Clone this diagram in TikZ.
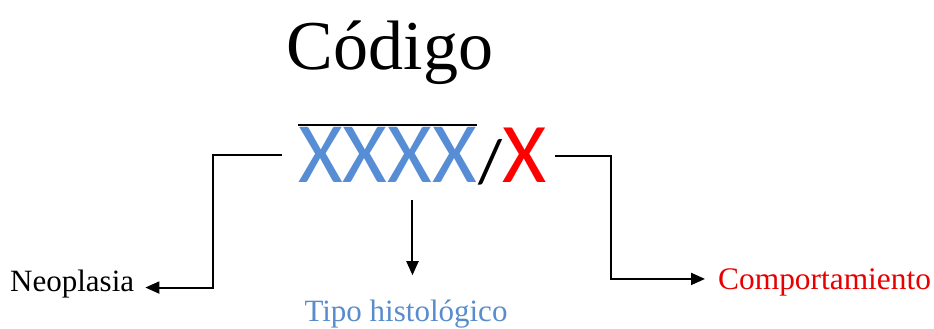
\documentclass[tikz,border=0pt]{standalone}
\usepackage{fontspec}
\setmainfont{Liberation Serif}
\newfontfamily\codefont{Carlito}
\usetikzlibrary{arrows.meta}
\definecolor{codeblue}{RGB}{86,141,212}
\definecolor{labelblue}{RGB}{88,140,204}
\definecolor{codered}{RGB}{255,0,0}
\definecolor{labelred}{RGB}{232,0,0}
\begin{document}
\begin{tikzpicture}[x=1pt,y=1pt,
  txt/.style={inner sep=0pt},
  conn/.style={line width=2pt,-{Triangle[length=14pt,width=12pt]}},
  plain/.style={line width=2pt}]
\useasboundingbox (0,0) rectangle (934,329);

% title
\node[txt,anchor=base] (title) at (390,259) {\fontsize{70}{84}\selectfont Código};

% the code itself: XXXX/X
\node[txt,anchor=base west,text=codeblue] (xs) at (298,146) {\codefont\fontsize{86}{100}\selectfont XXXX};
\node[txt,anchor=base west] (slash) at ([xshift=1pt]xs.base east) {\codefont\fontsize{62}{72}\selectfont /};
\node[txt,anchor=base west,text=codered] (beh) at (slash.base east) {\codefont\fontsize{85}{100}\selectfont X};
\draw[plain] ([yshift=3pt]xs.north west) -- ([yshift=3pt]xs.north east);

% labels
\node[txt,anchor=base west,inner xsep=11pt] (neo) at (-1,37) {\fontsize{31}{37}\selectfont Neoplasia};
\node[txt,anchor=base] (tipo) at (406,7) {\fontsize{31}{37}\selectfont\color{labelblue}Tipo histológico};
\node[txt,anchor=base west,inner xsep=13pt] (comp) at (705,39) {\fontsize{31.4}{37}\selectfont\color{labelred}Comportamiento};

% connectors
\draw[conn] ([xshift=-16pt]xs.west) -- ++(-69pt,0) |- ([yshift=-3pt]neo.east);
\coordinate (midtop) at ([xshift=25pt,yshift=-17pt]xs.south);
\coordinate (tipotop) at ([yshift=25pt]tipo.north);
\draw[conn] (midtop) -- (midtop |- tipotop);
\draw[conn] ([xshift=8pt]beh.east) -- ++(56pt,0) |- ([yshift=4pt]comp.west);
\end{tikzpicture}
\end{document}
